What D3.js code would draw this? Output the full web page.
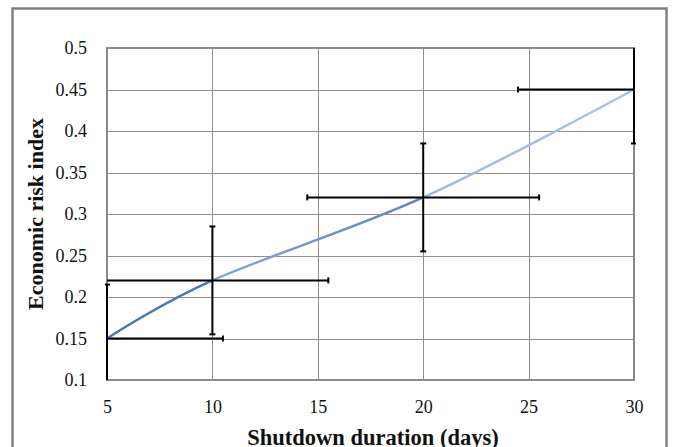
<!DOCTYPE html>
<html lang="en">
<head>
    <meta charset="UTF-8">
    <title>Economic risk index</title>
    <script src="https://cdn.jsdelivr.net/npm/d3@7"></script>
    <style>
        body { margin: 0; background: #fff; }
        svg text { font-family: "Liberation Serif", "DejaVu Serif", serif; fill: #111; }
    </style>
</head>
<body>
<svg width="675" height="447" xmlns="http://www.w3.org/2000/svg" id="chart"></svg>
<script>
    // data
    const days = [5, 10, 20, 30];
    const risk = [0.15, 0.22, 0.32, 0.45];
    const xErr = [5.5, 5.5, 5.5, 5.5];
    const yErr = [0.065, 0.065, 0.065, 0.065];
    const xTicks = [5, 10, 15, 20, 25, 30];
    const yTicks = [0.1, 0.15, 0.2, 0.25, 0.3, 0.35, 0.4, 0.45, 0.5];
    const yTickLabels = ["0.1", "0.15", "0.2", "0.25", "0.3", "0.35", "0.4", "0.45", "0.5"];

    const svg = d3.select("#chart");
    const pL = 107, pR = 634, pT = 48, pB = 380;

    const x = d3.scaleLinear().domain([5, 30]).range([pL, pR]);
    const y = d3.scaleLinear().domain([0.1, 0.5]).range([pB, pT]);

    // outer frame
    svg.append("rect")
        .attr("x", 12.5).attr("y", 8.5)
        .attr("width", 654).attr("height", 470)
        .attr("fill", "#fff")
        .attr("stroke", "#808080")
        .attr("stroke-width", 2.5);

    // grid
    const grid = svg.append("g");
    grid.selectAll("line.v").data(xTicks.slice(1, -1)).join("line")
        .attr("x1", d => Math.round(x(d)) + 0.5).attr("x2", d => Math.round(x(d)) + 0.5)
        .attr("y1", pT).attr("y2", pB)
        .attr("stroke", "#8f8f8f").attr("stroke-width", 1);
    grid.selectAll("line.h").data(yTicks.slice(1, -1)).join("line")
        .attr("x1", pL).attr("x2", pR)
        .attr("y1", d => Math.round(y(d)) + 0.5).attr("y2", d => Math.round(y(d)) + 0.5)
        .attr("stroke", "#8f8f8f").attr("stroke-width", 1);

    // plot border
    svg.append("rect")
        .attr("x", pL).attr("y", pT)
        .attr("width", pR - pL).attr("height", pB - pT)
        .attr("fill", "none")
        .attr("stroke", "#8a8a8a")
        .attr("stroke-width", 2);

    // axes labels
    const xAxis = d3.axisBottom(x).tickValues(xTicks).tickSize(0).tickPadding(0).tickFormat(d3.format("d"));
    const gx = svg.append("g").attr("transform", `translate(0,${pB})`).call(xAxis);
    gx.select(".domain").remove();
    gx.selectAll("text").attr("dy", null).attr("y", 33)
        .style("font-size", "18px").style("font-family", "Liberation Serif").style("fill", "#111");

    const yAxis = d3.axisLeft(y).tickValues(yTicks).tickSize(0).tickPadding(20)
        .tickFormat((d, i) => yTickLabels[i]);
    const gy = svg.append("g").attr("transform", `translate(${pL},0)`).call(yAxis);
    gy.select(".domain").remove();
    gy.selectAll("text").style("font-size", "18px").style("font-family", "Liberation Serif").style("fill", "#111");

    svg.append("text")
        .attr("x", 373).attr("y", 445)
        .attr("text-anchor", "middle")
        .style("font-size", "22.5px").style("font-weight", "bold")
        .text("Shutdown duration (days)");

    svg.append("text")
        .attr("transform", `translate(43,${(pT + pB) / 2}) rotate(-90)`)
        .attr("text-anchor", "middle")
        .style("font-size", "22px").style("font-weight", "bold")
        .text("Economic risk index");

    // clip + gradient
    const defs = svg.append("defs");
    defs.append("clipPath").attr("id", "plot-clip")
        .append("rect").attr("x", pL - 2).attr("y", pT - 2)
        .attr("width", pR - pL + 4).attr("height", pB - pT + 4);

    const span = x(30) - x(5);
    const pos = v => (x(v) - x(5)) / span;
    const grad = defs.append("linearGradient").attr("id", "line-grad")
        .attr("gradientUnits", "userSpaceOnUse")
        .attr("x1", x(5)).attr("x2", x(30)).attr("y1", 0).attr("y2", 0);
    [[0, "#4676b8"], [pos(10), "#4a7aba"], [pos(10), "#86a7d6"], [pos(20), "#5a84c1"],
     [pos(20), "#9fb8de"], [1, "#adc3e3"]].forEach(s => {
        grad.append("stop").attr("offset", s[0]).attr("stop-color", s[1]);
    });

    const pts = days.map((d, i) => [d, risk[i]]);
    const line = d3.line().x(d => x(d[0])).y(d => y(d[1])).curve(d3.curveCardinal.tension(0));
    svg.append("path")
        .attr("d", line(pts))
        .attr("fill", "none")
        .attr("stroke", "url(#line-grad)")
        .attr("stroke-width", 2.5);

    // error bars
    const eb = svg.append("g").attr("clip-path", "url(#plot-clip)")
        .attr("stroke", "#000").attr("stroke-width", 2).attr("fill", "none");
    const cap = 3;
    pts.forEach((p, i) => {
        const [xd0, xd1] = x.domain(), [yd0, yd1] = y.domain();
        const xl = p[0] - xErr[i], xr = p[0] + xErr[i];
        const yl = p[1] - yErr[i], yh = p[1] + yErr[i];
        const cx = x(p[0]), cy = y(p[1]);
        // horizontal
        eb.append("line")
            .attr("x1", x(Math.max(xl, xd0))).attr("x2", x(Math.min(xr, xd1)))
            .attr("y1", cy).attr("y2", cy);
        if (xl >= xd0) eb.append("line").attr("x1", x(xl)).attr("x2", x(xl)).attr("y1", cy - cap).attr("y2", cy + cap);
        if (xr <= xd1) eb.append("line").attr("x1", x(xr)).attr("x2", x(xr)).attr("y1", cy - cap).attr("y2", cy + cap);
        // vertical
        eb.append("line")
            .attr("x1", cx).attr("x2", cx)
            .attr("y1", y(Math.max(yl, yd0))).attr("y2", y(Math.min(yh, yd1)));
        if (yl >= yd0) eb.append("line").attr("x1", cx - cap).attr("x2", cx + cap).attr("y1", y(yl)).attr("y2", y(yl));
        if (yh <= yd1) eb.append("line").attr("x1", cx - cap).attr("x2", cx + cap).attr("y1", y(yh)).attr("y2", y(yh));
    });
</script>
</body>
</html>
